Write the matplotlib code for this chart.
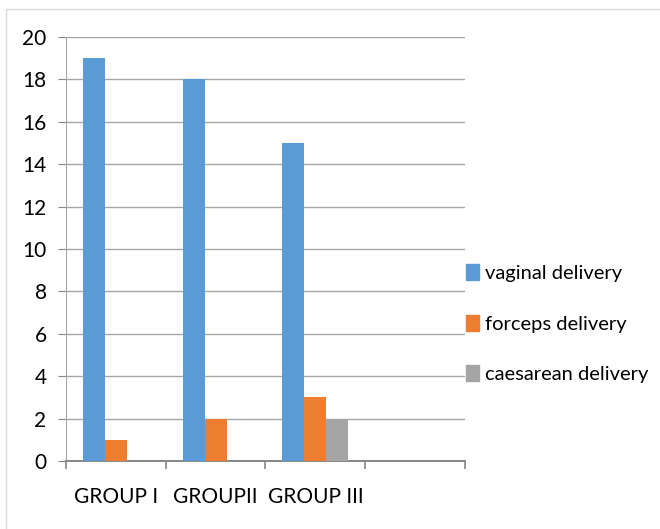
import matplotlib.pyplot as plt
from matplotlib.patches import Patch, Rectangle

plt.rcParams['font.family'] = ['Lato', 'DejaVu Sans']

groups = ["GROUP I", "GROUPII", "GROUP III", ""]
vaginal = [19, 18, 15, 0]
forceps = [1, 2, 3, 0]
caesarean = [0, 0, 2, 0]
series = ["vaginal delivery", "forceps delivery", "caesarean delivery"]
colors = ["#5b9bd5", "#ed7d31", "#a5a5a5"]

fig = plt.figure(figsize=(6.6, 5.29), dpi=100)
ax = fig.add_axes([0.1, 0.1285, 0.6045, 0.8015])

# outer frame like the exported chart
fig.patches.append(Rectangle((0.009, -0.1), 1.1, 1.083, transform=fig.transFigure,
                             fill=False, edgecolor="#d9d9d9", linewidth=1))

x = range(len(groups))
w = 0.22
for i, (vals, c) in enumerate(zip([vaginal, forceps, caesarean], colors)):
    ax.bar([p + (i - 1) * w for p in x], vals, width=w, color=c, zorder=3)

ax.set_xlim(-0.5, 3.5)
ax.set_ylim(0, 20)
ax.set_yticks(range(0, 21, 2))
ax.set_xticks(list(x))
ax.set_xticklabels(groups)
ax.set_xticks([-0.5, 0.5, 1.5, 2.5, 3.5], minor=True)
ax.tick_params(axis="x", which="major", length=0, pad=19, labelsize=15)
ax.tick_params(axis="x", which="minor", length=6, color="#868686", width=1.2)
ax.tick_params(axis="y", length=6, color="#868686", labelsize=15, pad=8)
ax.grid(axis="y", color="#a6a6a6", linewidth=1, zorder=0)

for s in ["top", "right"]:
    ax.spines[s].set_visible(False)
ax.spines["left"].set_color("#a6a6a6")
ax.spines["bottom"].set_color("#868686")
ax.spines["bottom"].set_linewidth(1.4)

handles = [Patch(color=c) for c in colors]
fig.legend(handles, series, loc="center left", bbox_to_anchor=(0.706, 0.388),
           frameon=False, fontsize=14.5, handlelength=0.65, handleheight=0.85,
           handletextpad=0.3, labelspacing=1.62, borderaxespad=0, borderpad=0)

fig.savefig("out.png", dpi=100)
